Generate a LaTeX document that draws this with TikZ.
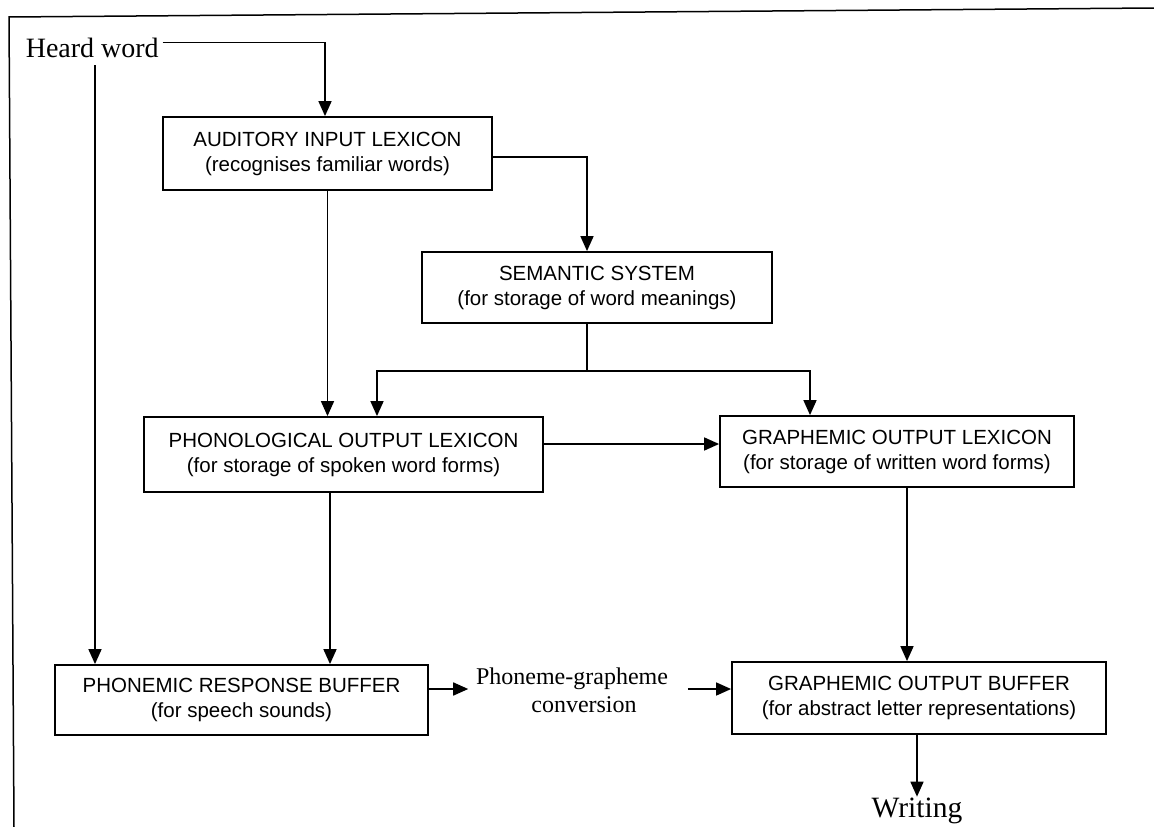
\documentclass[tikz,border=0pt]{standalone}
\usepackage{fontspec}
\setmainfont{Liberation Serif}
\newfontfamily\boxsans{Liberation Sans}
\usetikzlibrary{arrows.meta}
\begin{document}
\begin{tikzpicture}[x=1pt,y=-1pt,
  line width=1.6pt,
  arr/.style={-{Triangle[length=15pt,width=13pt]}},
  blk/.style={draw, line width=1.8pt, inner sep=0pt, align=center,
              font=\boxsans\fontsize{20.5}{25}\selectfont},
  serif/.style={inner sep=0pt, font=\fontsize{28}{32}\selectfont}]

\useasboundingbox (0,0) rectangle (1154,827);

% page frame (slightly skewed scan)
\draw[line width=1.5pt] (1154,8) -- (9,17) -- (14,827);

% texts
\node[serif, anchor=base west] (heard) at (25,57) {Heard word};
\node[inner sep=0pt, anchor=base, font=\fontsize{29.5}{32}\selectfont] (writing) at (917,817) {Writing};
\node[inner sep=0pt, align=center, font=\fontsize{24}{28}\selectfont] (pg) at (572,690) {Phoneme-grapheme\\\hspace*{24pt}conversion};

% boxes
\node[blk, minimum width=329pt, minimum height=73pt] (aud) at (327.5,153.5)
  {AUDITORY INPUT LEXICON\\(recognises familiar words)};
\node[blk, minimum width=350pt, minimum height=71pt] (sem) at (597,287.5)
  {SEMANTIC SYSTEM\\(for storage of word meanings)};
\node[blk, minimum width=399pt, minimum height=75pt] (phon) at (343.5,454.5)
  {PHONOLOGICAL OUTPUT LEXICON\\(for storage of spoken word forms)};
\node[blk, minimum width=354pt, minimum height=71pt] (glex) at (897,451.5)
  {GRAPHEMIC OUTPUT LEXICON\\(for storage of written word forms)};
\node[blk, minimum width=373pt, minimum height=70pt] (pbuf) at (241.5,700)
  {PHONEMIC RESPONSE BUFFER\\(for speech sounds)};
\node[blk, minimum width=374pt, minimum height=72pt] (gbuf) at (919,698)
  {GRAPHEMIC OUTPUT BUFFER\\(for abstract letter representations)};

% connectors
\draw[arr] ([xshift=3pt,yshift=5pt]heard.east) -| ([xshift=-2.5pt]aud.north);
\coordinate (hd) at (95,65);
\draw[arr] (hd) -- (hd |- pbuf.north);

\draw[arr] (aud.south) -- (aud.south |- phon.north);
\draw[arr] ([yshift=-3.5pt]aud.east) -| ([xshift=-10pt]sem.north);

\coordinate (br) at (587,371);
\draw (sem.south -| br) -- (br);
\draw[arr] (br) -| ([xshift=33.5pt]phon.north);
\draw[arr] (br) -| ([xshift=-87pt]glex.north);

\draw[arr] ([yshift=10.5pt]phon.east) -- ([yshift=10.5pt]phon.east -| glex.west);
\draw[arr] ([xshift=-13.5pt]phon.south) -- ([xshift=-13.5pt]phon.south |- pbuf.north);
\draw[arr] ([xshift=10pt]glex.south) -- ([xshift=10pt]glex.south |- gbuf.north);

\draw[arr] ([yshift=11pt]pbuf.east) -- ([xshift=-7pt,yshift=11pt]pbuf.east -| pg.west);
\draw[arr] ([xshift=19pt,yshift=11pt]pbuf.east -| pg.east) -- ([yshift=11pt]pbuf.east -| gbuf.west);

\draw[arr] (writing.north |- gbuf.south) -- (writing.north);
\end{tikzpicture}
\end{document}
